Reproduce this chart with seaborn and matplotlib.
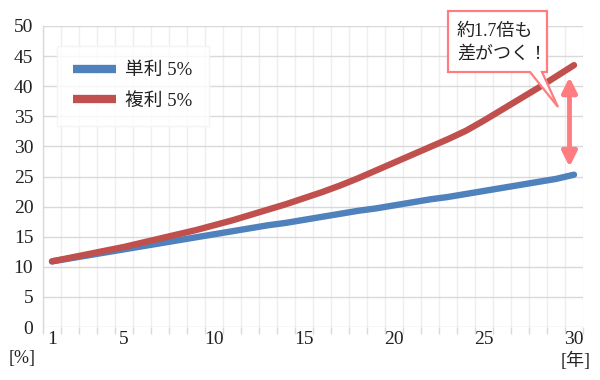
import matplotlib
matplotlib.use("Agg")
import matplotlib.pyplot as plt
import seaborn as sns
import pandas as pd
import numpy as np
from matplotlib.patches import Polygon

years = list(range(1, 31))
simple_5 = [10.9, 11.4, 11.9, 12.4, 12.9, 13.4, 13.9, 14.4, 14.9, 15.4,
            15.9, 16.4, 16.9, 17.3, 17.8, 18.3, 18.8, 19.3, 19.7, 20.2,
            20.7, 21.2, 21.6, 22.1, 22.6, 23.1, 23.6, 24.1, 24.6, 25.3]
compound_5 = [10.9, 11.5, 12.1, 12.7, 13.3, 14.0, 14.7, 15.4, 16.1, 16.9,
              17.7, 18.6, 19.5, 20.4, 21.4, 22.4, 23.5, 24.7, 26.0, 27.3,
              28.6, 29.9, 31.2, 32.6, 34.3, 36.1, 37.9, 39.7, 41.6, 43.5]
series_names = ["単利 5%", "複利 5%"]
colors = ["#4F81BD", "#C0504D"]
x_ticks = [1, 5, 10, 15, 20, 25, 30]
y_ticks = list(range(0, 51, 5))
callout_text = "約1.7倍も\n差がつく！"

sns.set_theme(style="white")
FAM = ["Liberation Serif", "Noto Sans CJK JP", "DejaVu Sans"]
plt.rcParams["font.family"] = FAM

df = pd.DataFrame({
    "year": years * 2,
    "value": simple_5 + compound_5,
    "series": [series_names[0]] * len(years) + [series_names[1]] * len(years),
})

W, H = 600, 380
fig = plt.figure(figsize=(6, 3.8), dpi=100)
ax = fig.add_axes([43 / W, 1 - 327 / H, 540 / W, 301 / H])

sns.lineplot(data=df, x="year", y="value", hue="series",
             palette=dict(zip(series_names, colors)), linewidth=4.6,
             ax=ax, legend=True, solid_capstyle="round")

ax.set_xlim(0.5, 30.5)
ax.set_ylim(0, 50)
ax.set_xticks(x_ticks)
ax.set_yticks(y_ticks)
ax.set_xticks(np.arange(0.5, 31, 1), minor=True)
ax.grid(axis="y", which="major", color="#D9D9D9", linewidth=1.0)
ax.grid(axis="x", which="minor", color="#EEEEEE", linewidth=1.0)
ax.set_axisbelow(True)
for s in ["top", "right", "bottom"]:
    ax.spines[s].set_visible(False)
ax.spines["left"].set_color("#D9D9D9")
ax.spines["left"].set_linewidth(1.0)
ax.tick_params(axis="x", which="major", length=0, pad=3, labelsize=14, labelcolor="#222222")
ax.tick_params(axis="x", which="minor", length=5, color="#D9D9D9", direction="out", bottom=True)
ax.tick_params(axis="y", length=0, pad=7, labelsize=14, labelcolor="#222222")
ax.set_xlabel("")
ax.set_ylabel("")

leg = ax.legend(loc="upper left", bbox_to_anchor=(57 / W, 1 - 46 / H),
                bbox_transform=fig.transFigure, frameon=True, fancybox=False,
                fontsize=13.5, handlelength=2.3, handletextpad=0.5,
                borderpad=0.85, labelspacing=0.72, borderaxespad=0)
leg.get_frame().set_facecolor("white")
leg.get_frame().set_edgecolor("#F2F2F2")
leg.get_frame().set_linewidth(1.0)
for t in leg.get_texts():
    t.set_color("#222222")
for l in leg.get_lines():
    l.set_linewidth(6)
    l.set_solid_capstyle("butt")

fig.text(22 / W, 1 - 359 / H, "[%]", ha="center", va="center", fontsize=13, color="#222222")
fig.text(576 / W, 1 - 361 / H, "[年]", ha="center", va="center", fontsize=13, color="#222222")

pink = "#FF7C80"
# double arrow between the ends of the two series
ax.annotate("", xy=(29.75, simple_5[-1] + 1.3), xytext=(29.75, compound_5[-1] - 2.0),
            arrowprops=dict(arrowstyle="<|-|>", color=pink, lw=3.5,
                            mutation_scale=22, shrinkA=0, shrinkB=0))

# callout bubble
pts = [(448, 11), (547, 11), (547, 72), (542, 72), (558, 107), (530, 72), (448, 72)]
poly = Polygon([(x / W, 1 - y / H) for x, y in pts], closed=True,
               transform=fig.transFigure, facecolor="white", edgecolor=pink,
               linewidth=1.6, zorder=10)
fig.add_artist(poly)
fig.text(457 / W, 1 - 43 / H, callout_text, ha="left", va="center",
         fontsize=13, color="#222222", linespacing=1.45, zorder=11)

fig.savefig("out.png", dpi=100, facecolor="white")
